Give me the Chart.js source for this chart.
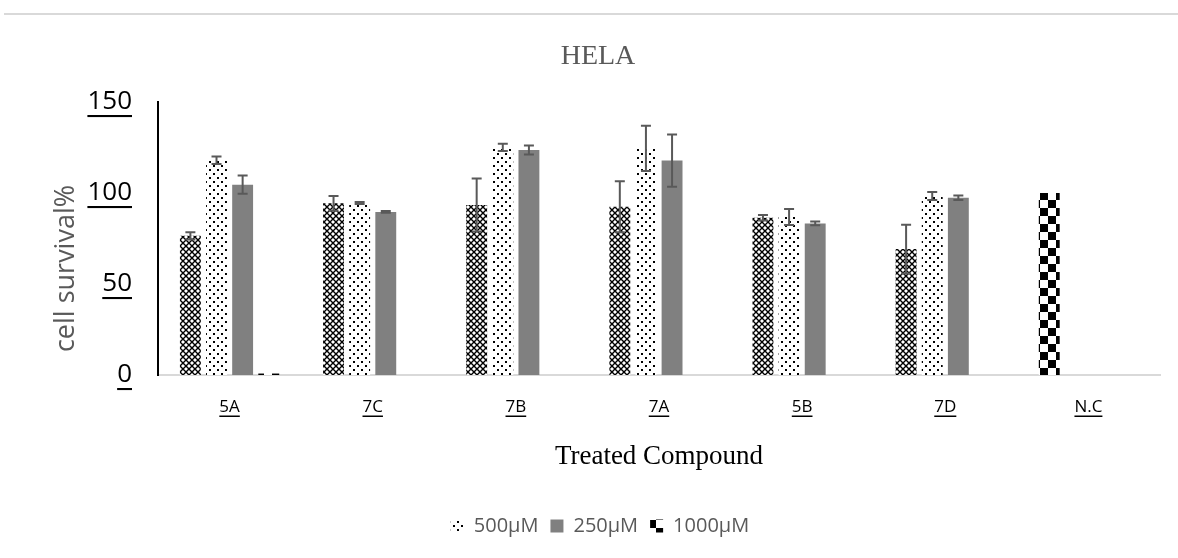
<!DOCTYPE html>
<html>
<head>
<meta charset="utf-8">
<script src="https://cdn.jsdelivr.net/npm/chart.js@4.4.1/dist/chart.umd.min.js"></script>
<style>
  html, body { margin: 0; padding: 0; background: #fff; }
  #wrap { position: relative; width: 1178px; height: 558px; }
  #wrap:before { content: ""; position: absolute; left: 4px; right: 0; top: 13px; border-top: 2px solid #d9d9d9; }
  canvas { display: block; }
</style>
</head>
<body>
<div id="wrap"><canvas id="hela" width="1178" height="558"></canvas></div>
<script>
// data
const compounds = ['5A', '7C', '7B', '7A', '5B', '7D', 'N.C'];
const crossVals = [76.5, 94.3, 93.4, 92.5, 86.4, 69.2, 100];
const crossErr  = [2, 4, 14.6, 14, 1.5, 13.4, 0];
const vals500   = [118, 94.5, 125.1, 124.5, 86.8, 98.4, null];
const err500    = [2, 0.6, 2, 12.4, 4.4, 2.2, 0];
const vals250   = [104.6, 89.6, 123.6, 117.8, 83.3, 97.4, null];
const err250    = [5, 0.5, 2.5, 14.4, 1, 1.2, 0];
const vals1000  = [0.8, null, null, null, null, null, null];
const yTicks    = [0, 50, 100, 150];
const legendNames = ['500µM', '250µM', '1000µM'];

// fill patterns
function makePattern(size, draw) {
    const c = document.createElement('canvas');
    c.width = size; c.height = size;
    const g = c.getContext('2d');
    g.fillStyle = '#fff';
    g.fillRect(0, 0, size, size);
    draw(g);
    return document.getElementById('hela').getContext('2d').createPattern(c, 'repeat');
}
const crossFill = makePattern(6, g => {
    g.strokeStyle = '#000';
    g.lineWidth = 1.4;
    g.beginPath();
    g.moveTo(0, 0); g.lineTo(6, 6);
    g.moveTo(6, 0); g.lineTo(0, 6);
    g.stroke();
});
const dotFill = makePattern(8, g => {
    g.fillStyle = '#000';
    g.fillRect(1, 1, 2, 2);
    g.fillRect(5, 5, 2, 2);
});
const checkFill = makePattern(16, g => {
    g.fillStyle = '#000';
    g.fillRect(0, 0, 8, 8);
    g.fillRect(8, 8, 8, 8);
});
const grayFill = '#808080';

const crossColors = compounds.map(c => c === 'N.C' ? checkFill : crossFill);
const errors = [crossErr, err500, err250, null];

// error bars
const errorBars = {
    id: 'errorBars',
    afterDatasetsDraw(chart) {
        const ctx = chart.ctx, ys = chart.scales.y;
        ctx.save();
        ctx.strokeStyle = '#595959';
        ctx.lineWidth = 2;
        chart.data.datasets.forEach((ds, i) => {
            const errs = errors[i];
            if (!errs) return;
            chart.getDatasetMeta(i).data.forEach((bar, j) => {
                const v = ds.data[j];
                if (v == null || !errs[j]) return;
                const yTop = ys.getPixelForValue(v + errs[j]);
                const yBot = ys.getPixelForValue(v - errs[j]);
                ctx.beginPath();
                ctx.moveTo(bar.x, yTop); ctx.lineTo(bar.x, yBot);
                ctx.moveTo(bar.x - 5, yTop); ctx.lineTo(bar.x + 5, yTop);
                ctx.moveTo(bar.x - 5, yBot); ctx.lineTo(bar.x + 5, yBot);
                ctx.stroke();
            });
        });
        ctx.restore();
    }
};

// underlined tick labels, axis titles and chart title
function underlined(ctx, text, x, y, align) {
    ctx.textAlign = align;
    ctx.fillText(text, x, y);
    const w = ctx.measureText(text).width;
    const x0 = align === 'right' ? x - w : align === 'center' ? x - w / 2 : x;
    const fs = parseFloat(ctx.font.match(/(\d+(\.\d+)?)px/)[1]);
    ctx.fillRect(x0, y + fs * 0.5, w, Math.max(1.5, fs * 0.08));
}
const textLayer = {
    id: 'textLayer',
    afterDraw(chart) {
        const ctx = chart.ctx, xs = chart.scales.x, ys = chart.scales.y, a = chart.chartArea;
        ctx.save();
        ctx.textBaseline = 'middle';
        ctx.fillStyle = '#000';
        ctx.font = '26px "Open Sans"';
        yTicks.forEach(t => underlined(ctx, String(t), 132, ys.getPixelForValue(t), 'right'));
        ctx.font = '17px "Open Sans"';
        compounds.forEach((c, i) => underlined(ctx, c, xs.getPixelForTick(i), 407, 'center'));

        ctx.fillStyle = '#000';
        ctx.font = '27px "Liberation Serif"';
        ctx.textAlign = 'center';
        ctx.fillText('Treated Compound', (a.left + a.right) / 2, 457);

        ctx.fillStyle = '#595959';
        ctx.font = '28px "Liberation Serif"';
        ctx.fillText('HELA', 598, 57);

        ctx.font = '27px "Open Sans"';
        ctx.translate(66, (a.top + a.bottom) / 2 + 30);
        ctx.rotate(-Math.PI / 2);
        ctx.fillText('cell survival%', 0, 0);
        ctx.restore();
    }
};

new Chart(document.getElementById('hela'), {
    type: 'bar',
    data: {
        labels: compounds,
        datasets: [
            { label: '', data: crossVals, backgroundColor: crossColors },
            { label: legendNames[0], data: vals500, backgroundColor: dotFill },
            { label: legendNames[1], data: vals250, backgroundColor: grayFill },
            { label: legendNames[2], data: vals1000, backgroundColor: checkFill }
        ]
    },
    options: {
        responsive: false,
        animation: false,
        categoryPercentage: 0.73,
        barPercentage: 0.8,
        layout: { padding: { top: 102, right: 18, bottom: 12, left: 40 } },
        plugins: {
            title: { display: false },
            tooltip: { enabled: false },
            legend: {
                position: 'bottom',
                labels: {
                    boxWidth: 13,
                    boxHeight: 13,
                    padding: 12,
                    color: '#595959',
                    font: { family: 'Open Sans', size: 20 },
                    generateLabels: () => [dotFill, grayFill, checkFill].map((fill, i) => ({
                        text: legendNames[i],
                        fillStyle: fill,
                        strokeStyle: 'rgba(0,0,0,0)',
                        lineWidth: 0,
                        fontColor: '#595959',
                        hidden: false,
                        datasetIndex: i + 1
                    }))
                }
            }
        },
        scales: {
            x: {
                grid: { display: false },
                border: { display: true, color: '#d9d9d9', width: 2 },
                ticks: { display: false },
                afterFit: s => { s.height = 129; }
            },
            y: {
                min: 0,
                max: 150,
                grid: { display: false },
                border: { display: true, color: '#000', width: 2 },
                ticks: { display: false },
                afterBuildTicks: s => { s.ticks = yTicks.map(v => ({ value: v })); },
                afterFit: s => { s.width = 118; }
            }
        }
    },
    plugins: [errorBars, textLayer]
});
</script>
</body>
</html>
